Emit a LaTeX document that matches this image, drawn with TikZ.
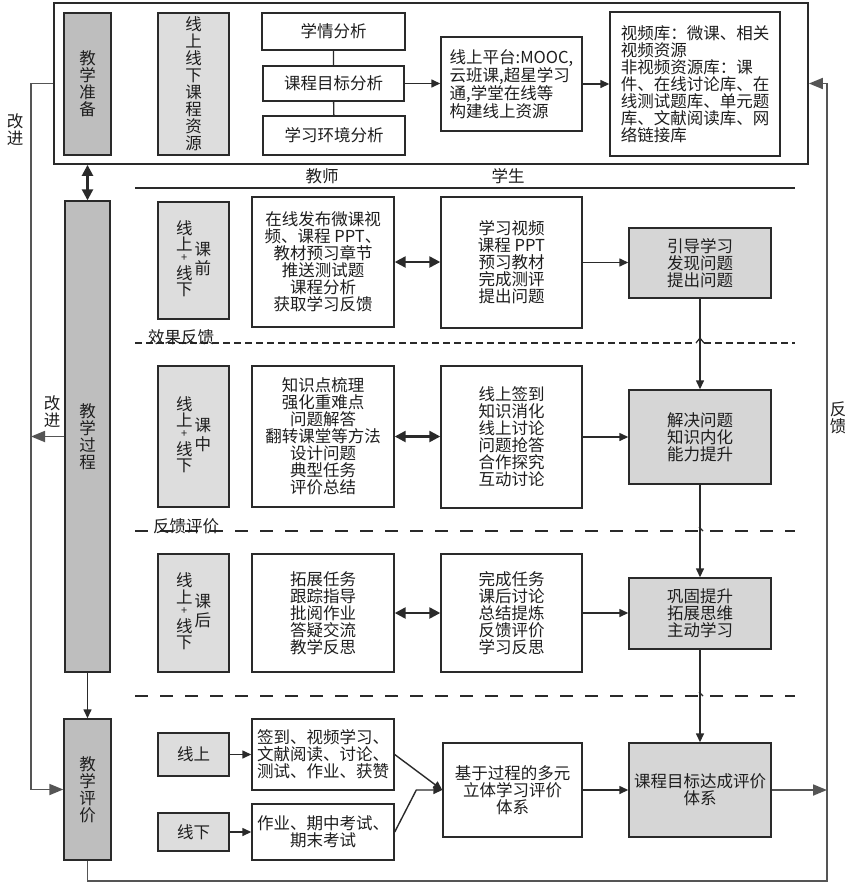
\documentclass[tikz,border=0pt]{standalone}
\usepackage{fontspec}
\setmainfont{Noto Sans CJK SC}
\usetikzlibrary{arrows.meta}
\definecolor{dk}{HTML}{BEBEBE}
\definecolor{lt}{HTML}{DDDDDD}
\definecolor{md}{HTML}{D6D6D6}
\definecolor{ln}{HTML}{2A2A2A}
\definecolor{gl}{HTML}{555555}
\definecolor{txt}{HTML}{1E1E1E}
\newcommand{\rowlab}[1]{\begin{tabular}[c]{@{}c@{}}线\\[-2pt]上\\[-6pt]{\fontsize{11}{11}\selectfont +}\\[-1pt]线\\[-2pt]下\end{tabular}\hspace{2pt}\begin{tabular}[c]{@{}c@{}}#1\end{tabular}}
\begin{document}
\begin{tikzpicture}[x=1pt,y=-1pt,
  bx/.style={draw=ln, line width=1.4pt, inner sep=0pt, align=center, text=txt,
     font=\fontsize{16.5}{17}\selectfont},
  dkbox/.style={bx, fill=dk},
  ltbox/.style={bx, fill=lt},
  mdbox/.style={bx, fill=md},
  lbl/.style={inner sep=0pt, align=center, text=txt, font=\fontsize{16.5}{17}\selectfont},
  arr/.style={ln, line width=1.4pt, -{Triangle[length=9pt,width=8pt]}},
  dbl/.style={ln, line width=2.4pt, {Triangle[length=11pt,width=11pt]}-{Triangle[length=11pt,width=11pt]}},
  loop/.style={gl, line width=1.8pt},
  looparr/.style={loop, -{Triangle[length=14pt,width=11pt]}},
  dshort/.style={ln, line width=1.4pt, dash pattern=on 7pt off 4pt},
  dlong/.style={ln, line width=1.4pt, dash pattern=on 13pt off 12pt}
]
\useasboundingbox (0,0) rectangle (845,884);
\fill[white] (0,0) rectangle (845,884);

% ---------- preparation block ----------
\node[bx, line width=1.8pt, minimum width=754pt, minimum height=161pt] (prep) at (431,83.5) {};
\node[dkbox, minimum width=47pt, minimum height=142pt] (jxzb) at (87.5,84) {教\\学\\准\\备};
\node[ltbox, minimum width=71pt, minimum height=142pt] (res) at (193.5,84) {线\\上\\线\\下\\课\\程\\资\\源};
\node[bx, minimum width=143pt, minimum height=37pt] (xq) at (333.5,31.5) {学情分析};
\node[bx, minimum width=141pt, minimum height=35pt] (kcmb) at (333.5,83.5) {课程目标分析};
\node[bx, minimum width=142pt, minimum height=39pt] (hj) at (334,135.5) {学习环境分析};
\node[bx, minimum width=141pt, minimum height=94pt, align=left] (pt) at (511.5,84) {线上平台:MOOC,\\云班课,超星学习\\通,学堂在线等\\构建线上资源};
\node[bx, minimum width=170pt, minimum height=144pt, align=left] (lib) at (695,84) {视频库：微课、相关\\视频资源\\非视频资源库：课\\件、在线讨论库、在\\线测试题库、单元题\\库、文献阅读库、网\\络链接库};

\draw[ln, line width=1.4pt] (xq) -- (kcmb) -- (hj);
\draw[arr] (kcmb.east) -- (kcmb.east -| pt.west);
\draw[arr] (pt.east) -- (lib.west);

% ---------- headers ----------
\node[lbl] (tch) at (322,176) {教师};
\node[lbl] (stu) at (508,176) {学生};
\draw[ln, line width=1.4pt] (135,188) -- (795,188);

% ---------- left column ----------
\node[dkbox, minimum width=45pt, minimum height=471pt] (jxgc) at (87.5,436.5) {教\\学\\过\\程};
\node[dkbox, minimum width=47pt, minimum height=141pt] (jxpj) at (87.5,789.5) {教\\学\\评\\价};
\draw[dbl] (prep.south -| jxgc.north) -- (jxgc.north);
\draw[arr] (jxgc.south) -- (jxpj.north);

% ---------- row 1 ----------
\node[ltbox, minimum width=71pt, minimum height=117pt] (l1) at (193.5,260.5) {\rowlab{课\\前}};
\node[bx, minimum width=142pt, minimum height=130pt] (t1) at (323,262) {在线发布微课视\\频、课程 PPT、\\教材预习章节\\推送测试题\\课程分析\\获取学习反馈};
\node[bx, minimum width=141pt, minimum height=131pt] (s1) at (511.5,262.5) {学习视频\\课程 PPT\\预习教材\\完成测评\\提出问题};
\node[mdbox, minimum width=142pt, minimum height=70pt] (r1) at (700,263) {引导学习\\发现问题\\提出问题};
\draw[dbl] (t1.east) -- (t1.east -| s1.west);
\draw[arr] (s1.east) -- (s1.east -| r1.west);

% dashed line 1
\draw[dshort] (135,343) -- (696,343);
\draw[dshort] (704,343) -- (795,343);
\draw[ln, line width=1.2pt] (696,343) -- (700,338) -- (704,343);
\node[lbl] (fb1) at (181,337) {效果反馈};

% ---------- row 2 ----------
\node[ltbox, minimum width=71pt, minimum height=141pt] (l2) at (193.5,436.5) {\rowlab{课\\中}};
\node[bx, minimum width=142pt, minimum height=141pt] (t2) at (323,436.5) {知识点梳理\\强化重难点\\问题解答\\翻转课堂等方法\\设计问题\\典型任务\\评价总结};
\node[bx, minimum width=141pt, minimum height=142pt] (s2) at (511.5,437) {线上签到\\知识消化\\线上讨论\\问题抢答\\合作探究\\互动讨论};
\node[mdbox, minimum width=142pt, minimum height=94pt] (r2) at (700,437) {解决问题\\知识内化\\能力提升};
\draw[dbl] (t2.east) -- (t2.east -| s2.west);
\draw[arr] (s2.east) -- (s2.east -| r2.west);

% dashed line 2
\draw[dlong] (135,531) -- (795,531);
\draw[ln, line width=1.2pt] (699,527) -- (703,531);
\node[lbl] (fb2) at (186,526) {反馈评价};

% ---------- row 3 ----------
\node[ltbox, minimum width=71pt, minimum height=118pt] (l3) at (193.5,613) {\rowlab{课\\后}};
\node[bx, minimum width=142pt, minimum height=118pt] (t3) at (323,613) {拓展任务\\跟踪指导\\批阅作业\\答疑交流\\教学反思};
\node[bx, minimum width=141pt, minimum height=118pt] (s3) at (511.5,613) {完成任务\\课后讨论\\总结提炼\\反馈评价\\学习反思};
\node[mdbox, minimum width=142pt, minimum height=71pt] (r3) at (700,613.5) {巩固提升\\拓展思维\\主动学习};
\draw[dbl] (t3.east) -- (t3.east -| s3.west);
\draw[arr] (s3.east) -- (s3.east -| r3.west);

% dashed line 3
\draw[dlong] (135,696) -- (795,696);
\draw[ln, line width=1.2pt] (699,692) -- (703,696);

% vertical flow on the right
\draw[arr] (r1) -- (r2);
\draw[arr] (r2) -- (r3);

% ---------- row 4 ----------
\node[ltbox, minimum width=71pt, minimum height=43pt] (on) at (193.5,754.5) {线上};
\node[ltbox, minimum width=71pt, minimum height=38pt] (off) at (193.5,832) {线下};
\node[bx, minimum width=142pt, minimum height=71pt] (e1) at (323,754.5) {签到、视频学习、\\文献阅读、讨论、\\测试、作业、获赞};
\node[bx, minimum width=142pt, minimum height=56pt] (e2) at (323,832) {作业、期中考试、\\期末考试};
\node[bx, minimum width=139pt, minimum height=94pt] (mult) at (512.5,790) {基于过程的多元\\立体学习评价\\体系};
\node[mdbox, minimum width=142pt, minimum height=94pt] (goal) at (700,790) {课程目标达成评价\\体系};
\draw[arr] (on.east) -- (on.east -| e1.west);
\draw[arr] (off.east) -- (off.east -| e2.west);
\draw[arr] (e1.east) -- (mult.west);
\draw[arr] (e2.east) -- ([xshift=-26pt]mult.west) -- (mult.west);
\draw[arr] (mult.east) -- (goal.west);
\draw[arr] (r3) -- (goal);

% ---------- feedback loops ----------
\coordinate (Rb) at (827,881);
\coordinate (Lt) at (31,83.5);
\draw[looparr] (jxpj.south) -- (jxpj.south |- Rb) -- (Rb) -- (Rb |- prep.east) -- (prep.east);
\draw[looparr] (prep.west) -- (Lt) -- (Lt |- jxpj.west) -- (jxpj.west);
\draw[looparr] (jxgc.west) -- (jxgc.west -| Lt);
\draw[looparr] (goal.east) -- (goal.east -| Rb);

\node[lbl] (gj1) at (15,130) {改\\进};
\node[lbl] (gj2) at (52,412) {改\\进};
\node[lbl] (fk) at (838,418) {反\\馈};
\end{tikzpicture}
\end{document}
